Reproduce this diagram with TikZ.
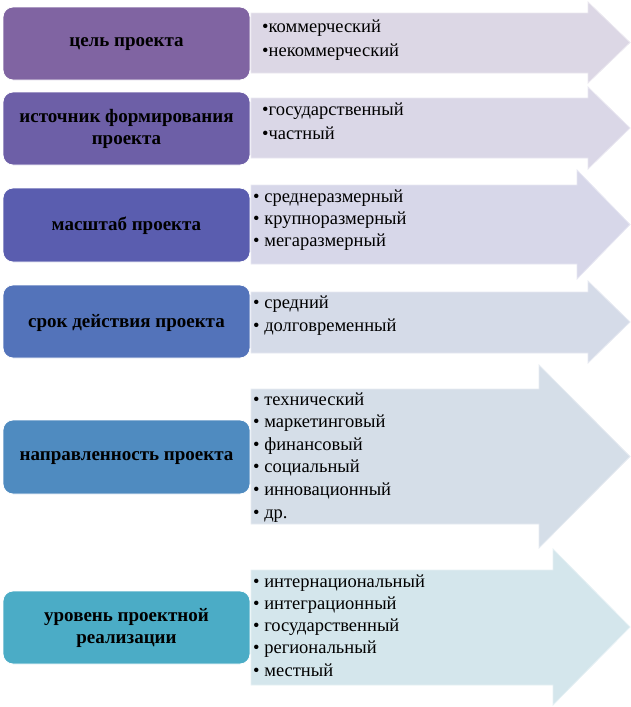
\documentclass[tikz,border=0pt]{standalone}
\usepackage{fontspec}
\setmainfont{Liberation Serif}
\newfontfamily\tnr{Liberation Serif}
\definecolor{bA}{HTML}{8064A2}
\definecolor{bB}{HTML}{6D5FA7}
\definecolor{bC}{HTML}{5A5DAF}
\definecolor{bD}{HTML}{5373BA}
\definecolor{bE}{HTML}{4F8BC0}
\definecolor{bF}{HTML}{4BACC6}
\definecolor{aA}{HTML}{DCD7E5}
\definecolor{aB}{HTML}{DAD7E7}
\definecolor{aC}{HTML}{D7D7E9}
\definecolor{aD}{HTML}{D5DBE8}
\definecolor{aE}{HTML}{D5DEE8}
\definecolor{aF}{HTML}{D4E6EC}
\begin{document}
\begin{tikzpicture}[x=1pt,y=-1pt,
  lab/.style={font=\tnr\bfseries\fontsize{19}{22}\selectfont, align=center, inner sep=0pt, text=black},
  item/.style={font=\tnr\fontsize{18.5}{22}\selectfont, anchor=base west, inner sep=0pt, text=black},
  boxst/.style={rounded corners=10pt, draw=white, line width=0.8pt, minimum width=247pt, inner sep=0pt},
  arr/.style={draw=white!40!#1, line width=0.8pt, fill=#1}]
\useasboundingbox (0,0) rectangle (631,707);
% arrows: top, bottom, head top, head bottom, base x
\foreach \n/\t/\b/\ht/\hb/\bx/\c in {1/13/73/2/83/588/aA, 2/98/158/87/169/588/aB, 3/185/264/170/279/577/aC, 4/292/353/281/363/588/aD, 5/389/524/365/548/539/aE, 6/570/685/549/705/553/aF}{
  \draw[arr=\c] (251,\t) -- (\bx,\t) -- (\bx,\ht) -- (630,{(\ht+\hb)/2}) -- (\bx,\hb) -- (\bx,\b) -- (251,\b) -- cycle;
}
% boxes
\node[boxst, fill=bA, minimum height=73pt] (b1) at (126.5,43.5) {};
\node[boxst, fill=bB, minimum height=73pt] (b2) at (126.5,128.5) {};
\node[boxst, fill=bC, minimum height=74pt] (b3) at (126.5,225) {};
\node[boxst, fill=bD, minimum height=73pt] (b4) at (126.5,321.5) {};
\node[boxst, fill=bE, minimum height=74pt] (b5) at (126.5,457) {};
\node[boxst, fill=bF, minimum height=73pt] (b6) at (126.5,627.5) {};
% labels
\node[lab] (l1) at ([yshift=-1pt]b1) {цель проекта};
\node[lab] (l2) at (b2) {источник формирования\\проекта};
\node[lab] (l3) at ([yshift=-1pt]b3) {масштаб проекта};
\node[lab] (l4) at ([yshift=-1pt]b4) {срок действия проекта};
\node[lab] (l5) at ([yshift=-1pt]b5) {направленность проекта};
\node[lab] (l6) at (b6) {уровень проектной\\реализации};
% items
\node[item] (i11) at (262,32) {•коммерческий};
\node[item] (i12) at (262,56) {•некоммерческий};
\node[item] (i21) at (262,115) {•государственный};
\node[item] (i22) at (262,139) {•частный};
\foreach \t [count=\k] in {среднеразмерный, крупноразмерный, мегаразмерный}
  \node[item] (i3\k) at (253,{202+22*(\k-1)}) {• \t};
\foreach \t [count=\k] in {средний, долговременный}
  \node[item] (i4\k) at (253,{308+23*(\k-1)}) {• \t};
\foreach \t [count=\k] in {технический, маркетинговый, финансовый, социальный, инновационный, др.}
  \node[item] (i5\k) at (253,{405+22.6*(\k-1)}) {• \t};
\foreach \t [count=\k] in {интернациональный, интеграционный, государственный, региональный, местный}
  \node[item] (i6\k) at (253,{587+22.3*(\k-1)}) {• \t};
\end{tikzpicture}
\end{document}
